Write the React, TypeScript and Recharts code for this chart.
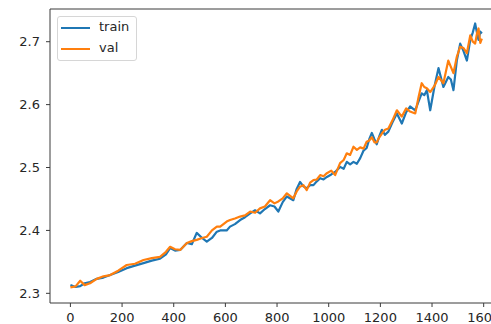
import React from "react";
import { LineChart, Line, XAxis, YAxis, ReferenceLine } from "recharts";

// step index (uneven spacing)
const steps = [
  0, 20, 38, 55, 76, 102, 128, 154, 185, 218,
  250, 283, 315, 347, 370, 386, 405, 425, 451, 470,
  489, 510, 528, 548, 567, 580, 605, 618, 637, 657,
  676, 696, 715, 734, 753, 773, 790, 805, 822, 838,
  863, 876, 889, 902, 915, 928, 941, 954, 967, 980,
  993, 1010, 1025, 1044, 1058, 1070, 1083, 1096, 1109, 1122,
  1135, 1147, 1157, 1167, 1177, 1186, 1196, 1206, 1218, 1231,
  1247, 1264, 1283, 1300, 1315, 1335, 1348, 1360, 1370, 1380,
  1393, 1410, 1425, 1444, 1463, 1473, 1483, 1496, 1509, 1522,
  1535, 1548, 1558, 1567, 1575, 1580, 1587, 1593,
];

const trainValues = [
  2.313, 2.31, 2.3115, 2.316, 2.318, 2.323, 2.325, 2.329, 2.334, 2.34,
  2.344, 2.348, 2.352, 2.355, 2.362, 2.372, 2.368, 2.369, 2.38, 2.378,
  2.396, 2.388, 2.382, 2.388, 2.398, 2.4, 2.4, 2.406, 2.41, 2.4165,
  2.421, 2.427, 2.432, 2.427, 2.434, 2.44, 2.438, 2.43, 2.445, 2.454,
  2.448, 2.466, 2.477, 2.47, 2.467, 2.472, 2.472, 2.478, 2.483, 2.481,
  2.485, 2.489, 2.493, 2.501, 2.498, 2.509, 2.505, 2.509, 2.506, 2.515,
  2.527, 2.531, 2.545, 2.555, 2.545, 2.537, 2.55, 2.56, 2.552, 2.557,
  2.572, 2.586, 2.57, 2.588, 2.597, 2.591, 2.605, 2.618, 2.615, 2.623,
  2.591, 2.63, 2.658, 2.628, 2.644, 2.64, 2.623, 2.67, 2.697, 2.685,
  2.67, 2.703, 2.715, 2.729, 2.712, 2.703, 2.716, 2.713,
];

const valValues = [
  2.3095, 2.311, 2.32, 2.313, 2.316, 2.323, 2.327, 2.329, 2.336, 2.345,
  2.347, 2.353, 2.356, 2.358, 2.366, 2.374, 2.37, 2.369, 2.38, 2.383,
  2.385, 2.388, 2.39, 2.4, 2.406, 2.406, 2.414, 2.4165, 2.419, 2.422,
  2.424, 2.43, 2.428, 2.435, 2.438, 2.448, 2.443, 2.446, 2.451, 2.459,
  2.451, 2.462, 2.4695, 2.472, 2.464, 2.476, 2.48, 2.481, 2.488, 2.486,
  2.491, 2.495, 2.488, 2.507, 2.512, 2.5226, 2.52, 2.533, 2.528, 2.532,
  2.53, 2.541, 2.543, 2.548, 2.54, 2.54, 2.548, 2.554, 2.56, 2.562,
  2.575, 2.591, 2.581, 2.594, 2.589, 2.586, 2.612, 2.634, 2.628, 2.626,
  2.62, 2.63, 2.644, 2.634, 2.67, 2.66, 2.65, 2.676, 2.692, 2.69,
  2.682, 2.71, 2.7, 2.697, 2.715, 2.721, 2.698, 2.705,
];

const xTicks = [0, 200, 400, 600, 800, 1000, 1200, 1400, 1600];
const yTicks = [2.3, 2.4, 2.5, 2.6, 2.7];

const data = steps.map((s, i) => ({
  step: s,
  train: trainValues[i],
  val: valValues[i],
}));

const font = "'DejaVu Sans', sans-serif";
const axisColor = "#3a3a3a";
const tickStyle = { fontSize: 13, fill: "#262626", fontFamily: font };

export default function App() {
  return (
    <div
      style={{
        position: "absolute",
        left: 0,
        top: 0,
        width: 491,
        height: 324,
        overflow: "hidden",
        background: "#fff",
      }}
    >
      <LineChart
        width={520}
        height={324}
        data={data}
        margin={{ top: 9, right: 18.5, bottom: 0, left: 0 }}
      >
        <XAxis
          dataKey="step"
          type="number"
          domain={[-79, 1669]}
          allowDataOverflow
          ticks={xTicks}
          tickSize={4}
          tickMargin={6}
          height={21}
          stroke={axisColor}
          tick={tickStyle}
        />
        <YAxis
          type="number"
          domain={[2.2846, 2.752]}
          allowDataOverflow
          ticks={yTicks}
          tickFormatter={(v: number) => v.toFixed(1)}
          tickSize={4}
          tickMargin={6}
          width={50}
          stroke={axisColor}
          tick={tickStyle}
        />
        <ReferenceLine y={2.752} stroke={axisColor} ifOverflow="visible" />
        <Line
          dataKey="train"
          stroke="#1f77b4"
          strokeWidth={2.2}
          strokeLinejoin="round"
          dot={false}
          type="linear"
          isAnimationActive={false}
        />
        <Line
          dataKey="val"
          stroke="#ff7f0e"
          strokeWidth={2.2}
          strokeLinejoin="round"
          dot={false}
          type="linear"
          isAnimationActive={false}
        />
      </LineChart>
      <div
        style={{
          position: "absolute",
          left: 57,
          top: 16,
          width: 80,
          height: 45,
          boxSizing: "border-box",
          border: "1px solid #d6d6d6",
          borderRadius: 3,
          background: "rgba(255,255,255,0.8)",
          fontFamily: font,
          fontSize: 13,
          color: "#262626",
        }}
      >
        {[
          { name: "train", color: "#1f77b4", y: 10 },
          { name: "val", color: "#ff7f0e", y: 31 },
        ].map((item) => (
          <div key={item.name}>
            <div
              style={{
                position: "absolute",
                left: 3,
                top: item.y,
                width: 29,
                height: 2,
                background: item.color,
              }}
            />
            <div
              style={{
                position: "absolute",
                left: 41,
                top: item.y - 8,
                lineHeight: "16px",
              }}
            >
              {item.name}
            </div>
          </div>
        ))}
      </div>
    </div>
  );
}
